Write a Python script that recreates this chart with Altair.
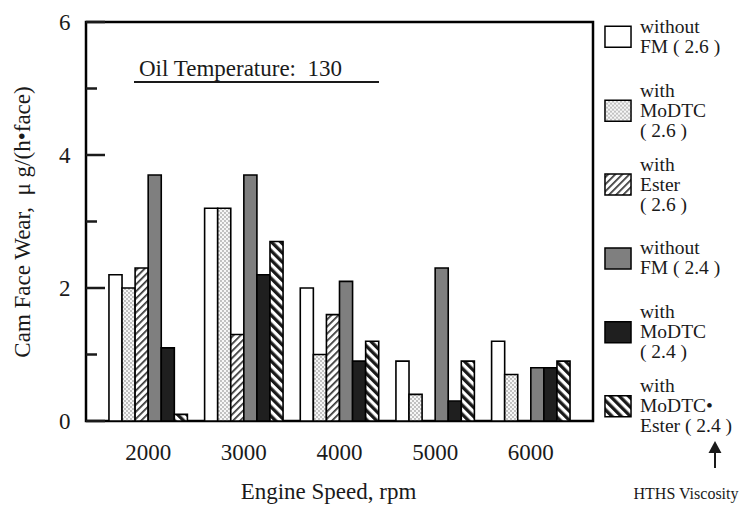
import altair as alt
import pandas as pd
import jinja2

# ---- data -----------------------------------------------------------------
speeds = ["2000", "3000", "4000", "5000", "6000"]

series = [
    "without FM (2.6)",
    "with MoDTC (2.6)",
    "with Ester (2.6)",
    "without FM (2.4)",
    "with MoDTC (2.4)",
    "with MoDTC•Ester (2.4)",
]

legend_labels = [
    "without\nFM ( 2.6 )",
    "with\nMoDTC\n\u00a0( 2.6 )",
    "with\nEster\n\u00a0( 2.6 )",
    "without\nFM ( 2.4 )",
    "with\nMoDTC\n\u00a0( 2.4 )",
    "with\nMoDTC•\nEster ( 2.4 )",
]

# cam face wear, µg/(h·face); None = not tested
wear_without_fm_26 = [2.2, 3.2, 2.0, 0.9, 1.2]
wear_modtc_26 = [2.0, 3.2, 1.0, 0.4, 0.7]
wear_ester_26 = [2.3, 1.3, 1.6, None, None]
wear_without_fm_24 = [3.7, 3.7, 2.1, 2.3, 0.8]
wear_modtc_24 = [1.1, 2.2, 0.9, 0.3, 0.8]
wear_modtc_ester_24 = [0.1, 2.7, 1.2, 0.9, 0.9]

major_ticks = [0, 2, 4, 6]
minor_ticks = [1, 3, 5]

# ---- styling --------------------------------------------------------------
FONT = "Liberation Serif"
INK = "#1a1a1a"
fills = [
    "white",
    "url(#dots) #e6e6e6",
    "url(#hatch-fine) #cccccc",
    "#7f7f7f",
    "#1f1f1f",
    "url(#hatch-bold) #808080",
]
fill_scale = alt.Scale(domain=series, range=fills)
wear_scale = alt.Scale(domain=[0, 6], nice=False, zero=True)

rows = []
for name, vals in zip(series, [wear_without_fm_26, wear_modtc_26, wear_ester_26,
                               wear_without_fm_24, wear_modtc_24, wear_modtc_ester_24]):
    for sp, v in zip(speeds, vals):
        if v is not None:
            rows.append({"speed": sp, "series": name, "wear": v})
bar_df = pd.DataFrame(rows)

bars = alt.Chart(bar_df).mark_bar(stroke="black", strokeWidth=1.6).encode(
    x=alt.X(
        "speed:N", sort=speeds,
        scale=alt.Scale(paddingInner=0.18, paddingOuter=0.24),
        axis=alt.Axis(
            labelAngle=0, ticks=False, domain=False, grid=False,
            labelFont=FONT, labelFontSize=23, labelColor=INK, labelPadding=20,
            titleFont=FONT, titleFontSize=23, titleFontWeight="normal",
            titleColor=INK, titlePadding=16, titleX=242,
        ),
        title="Engine Speed, rpm",
    ),
    xOffset=alt.XOffset(
        "series:N", sort=series,
        scale=alt.Scale(domain=series, paddingInner=0, paddingOuter=0),
    ),
    y=alt.Y(
        "wear:Q",
        scale=wear_scale,
        axis=alt.Axis(
            values=major_ticks, ticks=False, domain=False, grid=False,
            orient="left",
            labelFont=FONT, labelFontSize=23, labelColor=INK, labelPadding=16,
            titleFont=FONT, titleFontSize=23, titleFontWeight="normal",
            titleColor=INK, titlePadding=24,
        ),
        title="Cam Face Wear,\u00a0 μ g/(h•face)",
    ),
    fill=alt.Fill("series:N", scale=fill_scale, legend=None),
)

# inward ticks on the wear axis
major = alt.Chart(pd.DataFrame({"tick": major_ticks})).mark_rule(
    stroke=INK, strokeWidth=2.5
).encode(y=alt.Y("tick:Q", scale=wear_scale, axis=None),
         x=alt.value(0), x2=alt.value(19))
minor = alt.Chart(pd.DataFrame({"tick": minor_ticks})).mark_rule(
    stroke=INK, strokeWidth=2.5
).encode(y=alt.Y("tick:Q", scale=wear_scale, axis=None),
         x=alt.value(0), x2=alt.value(11))

# oil temperature note
note = alt.Chart(pd.DataFrame({"t": ["Oil Temperature:\u00a0 130"]})).mark_text(
    align="left", baseline="alphabetic", font=FONT, fontSize=23, color=INK
).encode(text="t:N", x=alt.value(53), y=alt.value(54))
note_line = alt.Chart(pd.DataFrame({"t": [0]})).mark_rule(
    stroke=INK, strokeWidth=2
).encode(x=alt.value(48), x2=alt.value(293), y=alt.value(60))

# legend at the right
leg_df = pd.DataFrame({
    "series": series,
    "label": legend_labels,
    "nlines": [lab.count("\n") + 1 for lab in legend_labels],
})
leg_scale = alt.Scale(type="point", domain=series, padding=0.2)
leg_y = alt.Y("series:N", sort=series, scale=leg_scale, axis=None)
BOX = "M-1.24,-1L1.24,-1L1.24,1L-1.24,1Z"
LINE_H = 20
leg_boxes = alt.Chart(leg_df).mark_point(
    shape=BOX, size=441, filled=True, stroke="black", strokeWidth=1.5, opacity=1
).encode(y=leg_y, x=alt.value(532),
         fill=alt.Fill("series:N", scale=fill_scale, legend=None))


def legend_text(n):
    # centre an n-line label block on its swatch
    return alt.Chart(leg_df).transform_filter(
        alt.datum.nlines == n
    ).mark_text(
        align="left", baseline="middle", lineBreak="\n", lineHeight=LINE_H,
        font=FONT, fontSize=19.5, color=INK, dy=-(n - 1) * LINE_H / 2,
    ).encode(y=leg_y, x=alt.value(554), text="label:N")


leg_text2 = legend_text(2)
leg_text3 = legend_text(3)

# viscosity pointer
hths = alt.Chart(pd.DataFrame({"t": ["HTHS Viscosity"]})).mark_text(
    align="center", baseline="alphabetic", font=FONT, fontSize=16, color=INK
).encode(text="t:N", x=alt.value(600), y=alt.value(477))
shaft = alt.Chart(pd.DataFrame({"t": [0]})).mark_rule(
    stroke=INK, strokeWidth=2
).encode(x=alt.value(629), y=alt.value(430), y2=alt.value(446))
head = alt.Chart(pd.DataFrame({"t": [0]})).mark_point(
    shape="M0,-1L1.08,1L-1.08,1Z", size=144, filled=True, color=INK, opacity=1
).encode(x=alt.value(629), y=alt.value(425))

chart = (
    alt.layer(bars, major, minor, note, note_line,
              leg_boxes, leg_text2, leg_text3, hths, shaft, head)
    .resolve_scale(y="independent")
    .properties(
        width=507, height=399,
        autosize=alt.AutoSizeParams(type="none"),
        padding={"left": 86, "top": 22, "right": 147, "bottom": 84},
        background="white",
    )
    .configure_view(stroke="black", strokeWidth=2.5)
)

# page template with the fill patterns used by the bars
PAGE = jinja2.Template("""<!DOCTYPE html>
<html>
<head>
  <style>
    #{{ output_div }}.vega-embed { width: 100%; display: flex; }
    #{{ output_div }}.vega-embed details,
    #{{ output_div }}.vega-embed details summary { position: relative; }
  </style>
  <script type="text/javascript" src="{{ base_url }}/vega@{{ vega_version }}"></script>
  <script type="text/javascript" src="{{ base_url }}/vega-lite@{{ vegalite_version }}"></script>
  <script type="text/javascript" src="{{ base_url }}/vega-embed@{{ vegaembed_version }}"></script>
</head>
<body>
  <svg width="0" height="0" style="position:absolute;left:0;top:0">
    <defs>
      <pattern id="dots" width="4" height="4" patternUnits="userSpaceOnUse">
        <rect width="4" height="4" fill="#f7f7f7"/>
        <circle cx="1" cy="1" r="0.9" fill="#a8a8a8"/>
        <circle cx="3" cy="3" r="0.9" fill="#a8a8a8"/>
      </pattern>
      <pattern id="hatch-fine" width="5" height="5" patternUnits="userSpaceOnUse"
               patternTransform="rotate(45)">
        <rect width="5" height="5" fill="white"/>
        <rect width="1.7" height="5" fill="#333333"/>
      </pattern>
      <pattern id="hatch-bold" width="6.5" height="6.5" patternUnits="userSpaceOnUse"
               patternTransform="rotate(-45)">
        <rect width="6.5" height="6.5" fill="white"/>
        <rect width="3.3" height="6.5" fill="#1a1a1a"/>
      </pattern>
    </defs>
  </svg>
  <div id="{{ output_div }}"></div>
  <script>
    (function(vegaEmbed) {
      var spec = {{ spec }};
      var embedOpt = {{ embed_options }};
      function showError(el, error){
        el.innerHTML = '<div style="color:red;"><p>JavaScript Error: ' + error.message + '</p></div>';
        throw error;
      }
      const el = document.getElementById('{{ output_div }}');
      vegaEmbed("#{{ output_div }}", spec, embedOpt).catch(error => showError(el, error));
    })(vegaEmbed);
  </script>
</body>
</html>
""")

chart.save("out.html", embed_options={"renderer": "svg", "actions": False}, template=PAGE)
